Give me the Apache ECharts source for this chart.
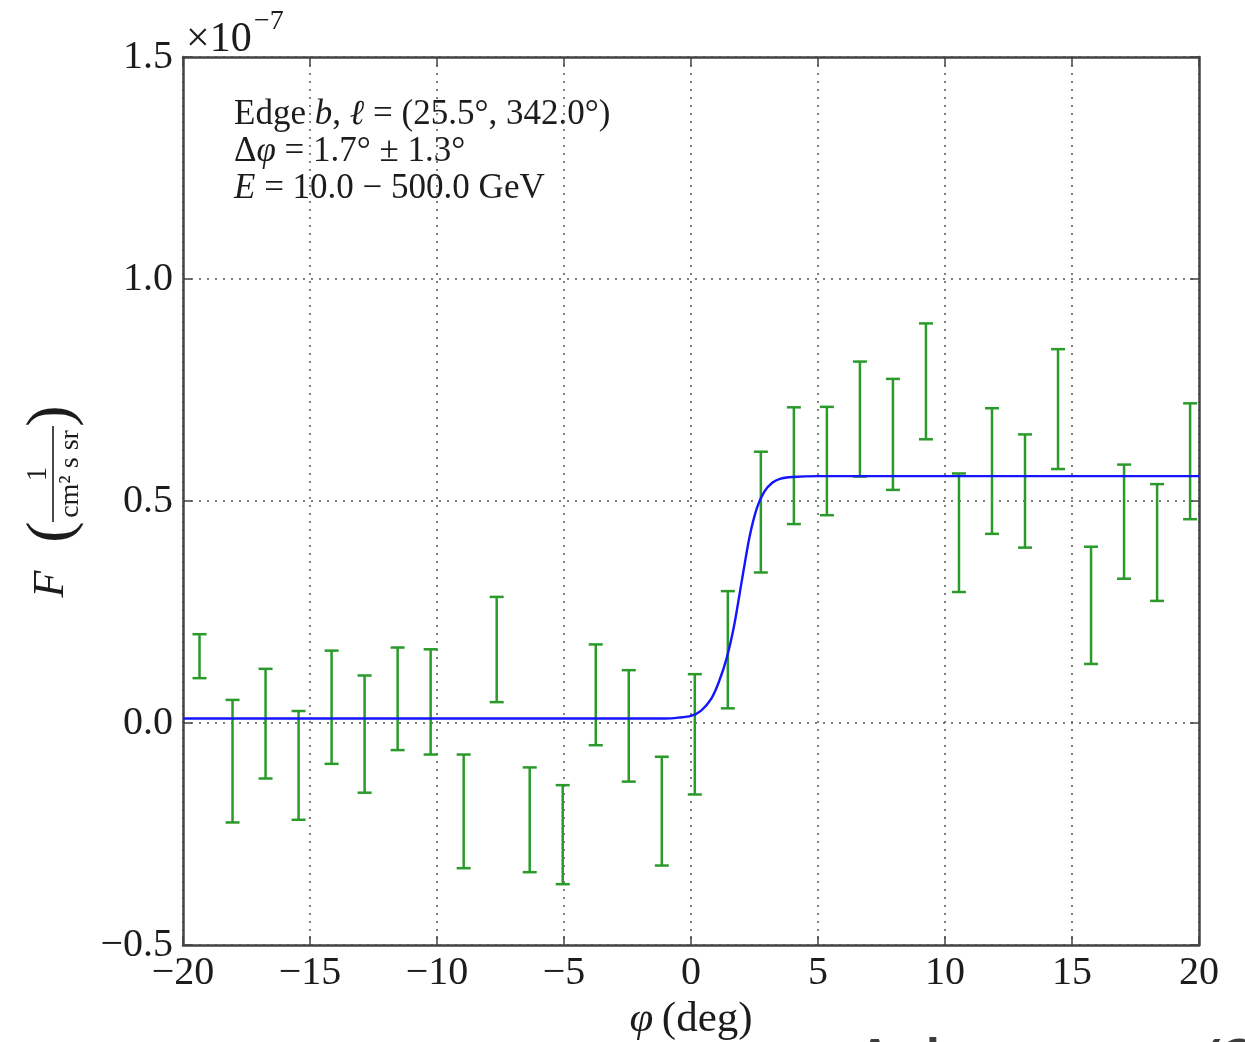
<!DOCTYPE html>
<html>
<head>
<meta charset="utf-8">
<script src="https://cdn.jsdelivr.net/npm/echarts@6/dist/echarts.min.js"></script>
<style>
  html, body { margin: 0; padding: 0; background: #ffffff; }
  #chart { width: 1245px; height: 1042px; }
</style>
</head>
<body>
<div id="chart"></div>
<script>
// Bin centres (deg) of the edge profile
const phi = [-19.35, -18.05, -16.75, -15.45, -14.15, -12.85, -11.55, -10.25, -8.95, -7.65,
             -6.35, -5.05, -3.75, -2.45, -1.15, 0.15, 1.45, 2.75, 4.05, 5.35,
             6.65, 7.95, 9.25, 10.55, 11.85, 13.15, 14.45, 15.75, 17.05, 18.35, 19.65];

// Upper and lower ends of each error bar (units of 1e-7 cm^-2 s^-1 sr^-1)
const fluxHigh = [0.200, 0.052, 0.122, 0.027, 0.163, 0.107, 0.170, 0.166, -0.071, 0.284,
                  -0.100, -0.140, 0.177, 0.119, -0.076, 0.110, 0.297, 0.611, 0.711, 0.712,
                  0.814, 0.775, 0.900, 0.562, 0.709, 0.650, 0.842, 0.397, 0.582, 0.538, 0.720];
const fluxLow  = [0.101, -0.224, -0.125, -0.218, -0.092, -0.157, -0.061, -0.071, -0.327, 0.047,
                  -0.336, -0.363, -0.050, -0.132, -0.321, -0.161, 0.033, 0.339, 0.448, 0.468,
                  0.555, 0.525, 0.639, 0.295, 0.426, 0.395, 0.572, 0.133, 0.325, 0.275, 0.459];

// Step-function fit through the edge
const fitPhi  = [-20, -2, -1, -0.5, 0, 0.4, 0.8, 1.1, 1.4, 1.7, 2.0, 2.3, 2.6, 2.9, 3.2, 3.5, 4.0, 5.0, 20];
const fitFlux = [0.010, 0.010, 0.010, 0.012, 0.016, 0.028, 0.055, 0.093, 0.145, 0.220, 0.320,
                 0.418, 0.485, 0.522, 0.541, 0.550, 0.554, 0.556, 0.556];

// Axis ticks
const xTicks = [-20, -15, -10, -5, 0, 5, 10, 15, 20];
const yTicks = [-0.5, 0.0, 0.5, 1.0, 1.5];

const SERIF = "'Liberation Serif', 'DejaVu Serif', serif";
const INK = '#1c1c1c';
const FRAME = '#444444';
const GREEN = '#2a9a2a';
const BLUE = '#1414ff';

const fmtMinus = s => s.replace('-', '\u2212');

const gridLine = { show: true, lineStyle: { color: '#555555', width: 1.5, type: [2, 6] } };

const frameAxis = {
  axisLine: { show: true, onZero: false, lineStyle: { color: FRAME, width: 2.5 } },
  axisTick: { show: true, inside: true, length: 9, lineStyle: { color: FRAME, width: 1.5 } }
};

const chart = echarts.init(document.getElementById('chart'), null, { renderer: 'canvas' });

const option = {
  backgroundColor: '#ffffff',
  animation: false,
  grid: { left: 183, right: 46, top: 57, bottom: 97, containLabel: false, outerBoundsMode: 'none' },
  xAxis: [
    Object.assign({
      type: 'value', position: 'bottom',
      min: xTicks[0], max: xTicks[xTicks.length - 1], interval: 5,
      axisLabel: {
        margin: 8, fontFamily: SERIF, fontSize: 40, color: INK,
        formatter: v => fmtMinus(String(v))
      },
      splitLine: gridLine,
      name: '{i|\u03C6}\u2009(deg)',
      nameLocation: 'middle', nameGap: 48,
      nameTextStyle: {
        fontFamily: SERIF, fontSize: 43, color: INK,
        rich: { i: { fontFamily: SERIF, fontSize: 43, fontStyle: 'italic', color: INK } }
      }
    }, frameAxis),
    Object.assign({
      type: 'value', position: 'top',
      min: xTicks[0], max: xTicks[xTicks.length - 1], interval: 5,
      axisLabel: { show: false },
      splitLine: { show: false }
    }, frameAxis)
  ],
  yAxis: [
    Object.assign({
      type: 'value', position: 'left',
      min: yTicks[0], max: yTicks[yTicks.length - 1], interval: 0.5,
      axisLabel: {
        margin: 10, fontFamily: SERIF, fontSize: 40, color: INK,
        formatter: v => fmtMinus(v.toFixed(1))
      },
      splitLine: gridLine
    }, frameAxis),
    Object.assign({
      type: 'value', position: 'right',
      min: yTicks[0], max: yTicks[yTicks.length - 1], interval: 0.5,
      axisLabel: { show: false },
      splitLine: { show: false }
    }, frameAxis)
  ],
  series: [
    {
      name: 'flux',
      type: 'custom',
      xAxisIndex: 0, yAxisIndex: 0,
      z: 3,
      data: phi.map((x, i) => [x, fluxLow[i], fluxHigh[i]]),
      encode: { x: 0, y: [1, 2] },
      renderItem: function (params, api) {
        const x = api.value(0);
        const lo = api.coord([x, api.value(1)]);
        const hi = api.coord([x, api.value(2)]);
        const hw = 7;
        const st = { stroke: GREEN, lineWidth: 2.5 };
        return {
          type: 'group',
          children: [
            { type: 'line', shape: { x1: lo[0], y1: lo[1], x2: hi[0], y2: hi[1] }, style: st },
            { type: 'line', shape: { x1: lo[0] - hw, y1: lo[1], x2: lo[0] + hw, y2: lo[1] }, style: st },
            { type: 'line', shape: { x1: hi[0] - hw, y1: hi[1], x2: hi[0] + hw, y2: hi[1] }, style: st }
          ]
        };
      }
    },
    {
      name: 'fit',
      type: 'line',
      xAxisIndex: 0, yAxisIndex: 0,
      z: 4,
      data: fitPhi.map((x, i) => [x, fitFlux[i]]),
      showSymbol: false,
      smooth: 0.25,
      lineStyle: { color: BLUE, width: 2.4 },
      silent: true
    }
  ],
  graphic: [
    // axis multiplier
    { type: 'text', x: 186, y: 40, style: { text: '\u00D710', fontFamily: SERIF, fontSize: 42, fill: INK, textVerticalAlign: 'middle' } },
    { type: 'text', x: 254, y: 22, style: { text: '\u22127', fontFamily: SERIF, fontSize: 28, fill: INK, textVerticalAlign: 'middle' } },
    // annotation block
    {
      type: 'text', x: 234, y: 115,
      style: {
        text: 'Edge {i|b}, {i|\u2113} = (25.5\u00B0, 342.0\u00B0)',
        fontFamily: SERIF, fontSize: 35, fill: INK, textVerticalAlign: 'middle',
        rich: { i: { fontFamily: SERIF, fontSize: 35, fontStyle: 'italic', fill: INK } }
      }
    },
    {
      type: 'text', x: 234, y: 152,
      style: {
        text: '\u0394{i|\u03C6} = 1.7\u00B0 \u00B1 1.3\u00B0',
        fontFamily: SERIF, fontSize: 35, fill: INK, textVerticalAlign: 'middle',
        rich: { i: { fontFamily: SERIF, fontSize: 35, fontStyle: 'italic', fill: INK } }
      }
    },
    {
      type: 'text', x: 234, y: 189,
      style: {
        text: '{i|E} = 10.0 \u2212 500.0 GeV',
        fontFamily: SERIF, fontSize: 35, fill: INK, textVerticalAlign: 'middle',
        rich: { i: { fontFamily: SERIF, fontSize: 35, fontStyle: 'italic', fill: INK } }
      }
    },
    // y-axis title: F (1 / cm^2 s sr), reading bottom to top
    {
      type: 'group', x: 53, y: 474, rotation: Math.PI / 2,
      children: [
        { type: 'text', x: -110, y: -2, style: { text: 'F', fontFamily: SERIF, fontSize: 44, fontStyle: 'italic', fill: INK, textAlign: 'center', textVerticalAlign: 'middle' } },
        { type: 'text', x: -58, y: 0, style: { text: '(', fontFamily: SERIF, fontSize: 64, fill: INK, textAlign: 'center', textVerticalAlign: 'middle' } },
        { type: 'text', x: 58, y: 0, style: { text: ')', fontFamily: SERIF, fontSize: 64, fill: INK, textAlign: 'center', textVerticalAlign: 'middle' } },
        { type: 'line', shape: { x1: -48, y1: 0, x2: 48, y2: 0 }, style: { stroke: INK, lineWidth: 1.6 } },
        { type: 'text', x: 0, y: -15, style: { text: '1', fontFamily: SERIF, fontSize: 29, fill: INK, textAlign: 'center', textVerticalAlign: 'middle' } },
        { type: 'text', x: 0, y: 18, style: { text: 'cm\u00B2 s sr', fontFamily: SERIF, fontSize: 28, fill: INK, textAlign: 'center', textVerticalAlign: 'middle' } }
      ]
    },
    // caption running off the bottom edge
    { type: 'text', x: 855, y: 1035, style: { text: 'Ackermann (2014)', fontFamily: "'Open Sans', sans-serif", fontSize: 60, fontWeight: 600, fill: '#3c3c3c', textVerticalAlign: 'top' } }
  ]
};

chart.setOption(option);
</script>
</body>
</html>
